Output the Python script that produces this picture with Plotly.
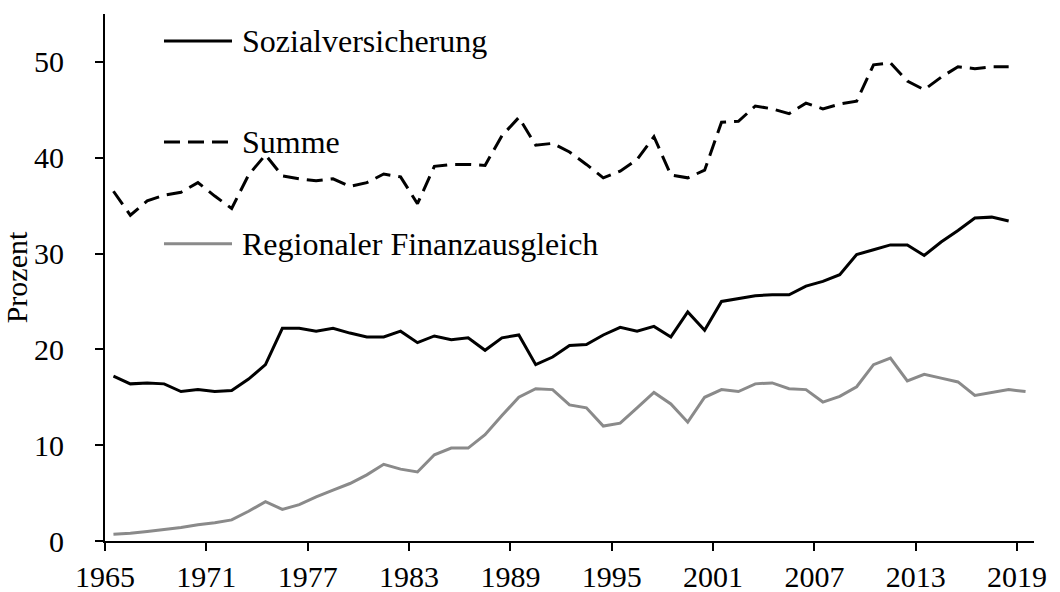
import plotly.graph_objects as go

years_main = list(range(1965, 2019))
years_reg = list(range(1965, 2020))

sozial = [17.2, 16.4, 16.5, 16.4, 15.6, 15.8, 15.6, 15.7, 16.9, 18.4,
          22.2, 22.2, 21.9, 22.2, 21.7, 21.3, 21.3, 21.9, 20.7, 21.4,
          21.0, 21.2, 19.9, 21.2, 21.5, 18.4, 19.2, 20.4, 20.5, 21.5,
          22.3, 21.9, 22.4, 21.3, 23.9, 22.0, 25.0, 25.3, 25.6, 25.7,
          25.7, 26.6, 27.1, 27.8, 29.9, 30.4, 30.9, 30.9, 29.8, 31.2,
          32.4, 33.7, 33.8, 33.4]

summe = [36.5, 34.0, 35.5, 36.1, 36.4, 37.4, 36.0, 34.7, 38.2, 40.3,
         38.1, 37.8, 37.6, 37.8, 37.0, 37.4, 38.3, 38.0, 35.2, 39.1,
         39.3, 39.3, 39.2, 42.3, 44.2, 41.3, 41.5, 40.6, 39.3, 37.9,
         38.6, 39.8, 42.2, 38.2, 37.9, 38.7, 43.7, 43.8, 45.4, 45.1,
         44.6, 45.7, 45.1, 45.6, 45.9, 49.7, 49.9, 48.0, 47.1, 48.4,
         49.5, 49.3, 49.5, 49.5]

regional = [0.7, 0.8, 1.0, 1.2, 1.4, 1.7, 1.9, 2.2, 3.1, 4.1,
            3.3, 3.8, 4.6, 5.3, 6.0, 6.9, 8.0, 7.5, 7.2, 9.0,
            9.7, 9.7, 11.1, 13.1, 15.0, 15.9, 15.8, 14.2, 13.9, 12.0,
            12.3, 13.9, 15.5, 14.3, 12.4, 15.0, 15.8, 15.6, 16.4, 16.5,
            15.9, 15.8, 14.5, 15.1, 16.1, 18.4, 19.1, 16.7, 17.4, 17.0,
            16.6, 15.2, 15.5, 15.8, 15.6]

tick_years = [1965, 1971, 1977, 1983, 1989, 1995, 2001, 2007, 2013, 2019]
y_ticks = [0, 10, 20, 30, 40, 50]

names = ["Sozialversicherung", "Summe", "Regionaler Finanzausgleich"]
styles = [dict(color="black", width=3),
          dict(color="black", width=3, dash="16px,8px"),
          dict(color="#8a8a8a", width=3)]

FONT = "Liberation Serif, Times New Roman, serif"

fig = go.Figure()
fig.add_trace(go.Scatter(x=years_main, y=sozial, mode="lines", name=names[0], line=styles[0]))
fig.add_trace(go.Scatter(x=years_main, y=summe, mode="lines", name=names[1], line=styles[1]))
fig.add_trace(go.Scatter(x=years_reg, y=regional, mode="lines", name=names[2], line=styles[2]))

# legend drawn inside plot area
legend_y = [0.949, 0.757, 0.564]
shapes = []
annotations = []
for name, st, ly in zip(names, styles, legend_y):
    shapes.append(dict(type="line", xref="paper", yref="paper",
                       x0=0.0635, x1=0.1367, y0=ly, y1=ly,
                       line=st))
    annotations.append(dict(xref="paper", yref="paper", x=0.1453, y=ly,
                            text=name, showarrow=False, xanchor="left", yanchor="middle",
                            font=dict(family=FONT, size=32, color="black")))

fig.update_layout(
    width=1060, height=592,
    margin=dict(l=105, r=26, t=14, b=51, autoexpand=False),
    paper_bgcolor="white", plot_bgcolor="white",
    showlegend=False,
    font=dict(family=FONT, size=30, color="black"),
    shapes=shapes, annotations=annotations,
    xaxis=dict(range=[1964.5, 2019.5], automargin=False,
               tickmode="array",
               tickvals=[t - 0.5 for t in tick_years],
               ticktext=[str(t) for t in tick_years],
               showgrid=False, zeroline=False,
               showline=True, linecolor="black", linewidth=2,
               ticks="outside", ticklen=8, tickwidth=2, tickcolor="black",
               ticklabelstandoff=0,
               tickfont=dict(family=FONT, size=30, color="black")),
    yaxis=dict(range=[0, 55], automargin=False,
               tickmode="array", tickvals=y_ticks,
               showgrid=False, zeroline=False,
               showline=True, linecolor="black", linewidth=2,
               ticks="outside", ticklen=8, tickwidth=2, tickcolor="black",
               ticklabelstandoff=25,
               tickfont=dict(family=FONT, size=30, color="black"),
               title=dict(text="Prozent", standoff=0,
                          font=dict(family=FONT, size=30, color="black"))),
)

fig.write_html("out.html", config={"responsive": False, "displayModeBar": False},
               post_script="document.body.style.margin='0';document.body.style.overflow='hidden';")
